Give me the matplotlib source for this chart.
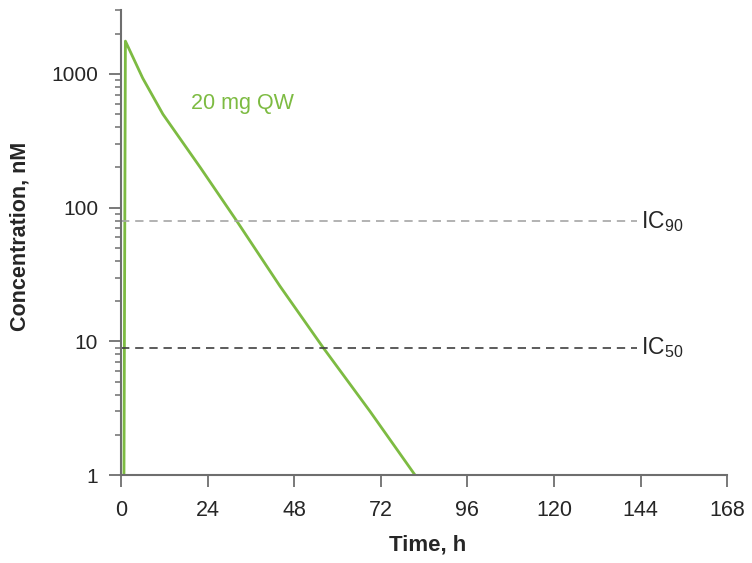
import matplotlib
matplotlib.use("Agg")
import matplotlib.pyplot as plt
from matplotlib.ticker import LogLocator, NullFormatter, FixedLocator

plt.rcParams["font.family"] = ["Liberation Sans", "DejaVu Sans"]
plt.rcParams["mathtext.fontset"] = "custom"
plt.rcParams["mathtext.rm"] = "Liberation Sans"
plt.rcParams["mathtext.it"] = "Liberation Sans"

# data
time_h = [0.8, 1.2, 6.0, 11.6, 22.0, 32.0, 44.0, 56.0, 69.0, 81.5]
conc_nm = [1.0, 1760, 930, 500, 199, 80, 26, 9.0, 3.0, 1.0]
ic90 = 79
ic50 = 9
series_label = "20 mg QW"
x_ticks = [0, 24, 48, 72, 96, 120, 144, 168]
y_ticks = [1, 10, 100, 1000]

green = "#7dbb42"
spine_c = "#6e6e6e"
txt_c = "#262626"

fig = plt.figure(figsize=(7.52, 5.63), dpi=100)
ax = fig.add_axes([0.161, 0.156, 0.806, 0.826])

ax.plot(time_h, conc_nm, color=green, lw=2.0, solid_joinstyle="round")
ax.plot([0, 143], [ic90, ic90], color="#a6a6a6", lw=1.2, dashes=(5, 3.5))
ax.plot([0, 143], [ic50, ic50], color="#404040", lw=1.2, dashes=(5, 3.5))
ax.text(144, ic90, r"IC$_{\mathrm{90}}$", fontsize=16.5, va="center", ha="left", color=txt_c)
ax.text(144, ic50, r"IC$_{\mathrm{50}}$", fontsize=16.5, va="center", ha="left", color=txt_c)
ax.text(19.5, 600, series_label, fontsize=15.5, color=green, va="center", ha="left")

ax.set_yscale("log")
ax.set_xlim(0, 168)
ax.set_ylim(1, 3000)
ax.xaxis.set_major_locator(FixedLocator(x_ticks))
ax.yaxis.set_major_locator(FixedLocator(y_ticks))
ax.set_yticklabels([str(v) for v in y_ticks])
ax.yaxis.set_minor_locator(LogLocator(base=10, subs=range(2, 10)))
ax.yaxis.set_minor_formatter(NullFormatter())

for s in ["top", "right"]:
    ax.spines[s].set_visible(False)
for s in ["left", "bottom"]:
    ax.spines[s].set_color(spine_c)
    ax.spines[s].set_linewidth(1.5)

ax.tick_params(axis="x", which="major", direction="out", length=8.7, width=1.3,
               color=spine_c, labelsize=15.5, pad=9, labelcolor=txt_c)
ax.tick_params(axis="y", which="major", direction="out", length=8.5, width=1.3,
               color=spine_c, labelsize=15, pad=8, labelcolor=txt_c)
ax.tick_params(axis="y", which="minor", direction="out", length=4, width=1.1,
               color=spine_c)

ax.set_xlabel("Time, h", fontsize=16, fontweight="bold", color=txt_c, va="center")
ax.set_ylabel("Concentration, nM", fontsize=15.5, fontweight="bold", color=txt_c, va="center")
ax.xaxis.set_label_coords(0.506, -0.1505)
ax.yaxis.set_label_coords(-0.1667, 0.514)

fig.savefig("out.png", dpi=100)
